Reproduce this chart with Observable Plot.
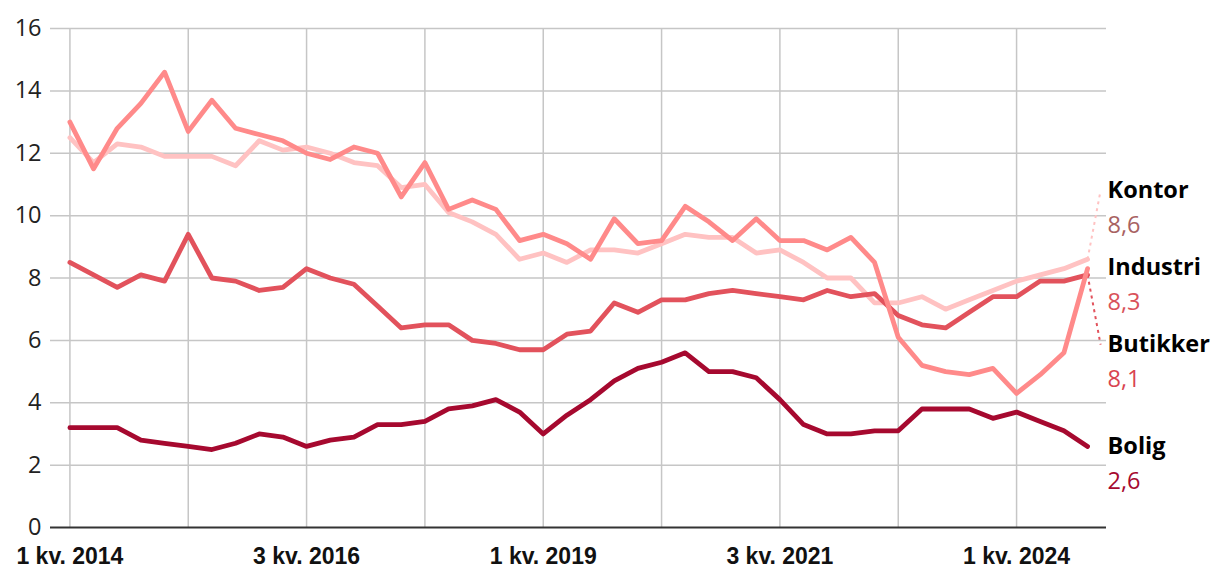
<!DOCTYPE html>
<html><head><meta charset="utf-8">
<script src="https://cdn.jsdelivr.net/npm/d3@7"></script>
<script src="https://cdn.jsdelivr.net/npm/@observablehq/plot@0.6"></script>
<style>
html,body{margin:0;padding:0;background:#fff;}
#chart{width:1220px;height:580px;}
</style></head><body><div id="chart"></div>
<script>
// ---- data ----
const startYear = 2014;
const seriesNames = ["Kontor", "Industri", "Butikker", "Bolig"];
const kontor = [12.5, 11.7, 12.3, 12.2, 11.9, 11.9, 11.9, 11.6, 12.4, 12.1,
  12.2, 12.0, 11.7, 11.6, 10.9, 11.0, 10.1, 9.8, 9.4, 8.6,
  8.8, 8.5, 8.9, 8.9, 8.8, 9.1, 9.4, 9.3, 9.3, 8.8,
  8.9, 8.5, 8.0, 8.0, 7.2, 7.2, 7.4, 7.0, 7.3, 7.6,
  7.9, 8.1, 8.3, 8.6];
const industri = [13.0, 11.5, 12.8, 13.6, 14.6, 12.7, 13.7, 12.8, 12.6, 12.4,
  12.0, 11.8, 12.2, 12.0, 10.6, 11.7, 10.2, 10.5, 10.2, 9.2,
  9.4, 9.1, 8.6, 9.9, 9.1, 9.2, 10.3, 9.8, 9.2, 9.9,
  9.2, 9.2, 8.9, 9.3, 8.5, 6.1, 5.2, 5.0, 4.9, 5.1,
  4.3, 4.9, 5.6, 8.3];
const butikker = [8.5, 8.1, 7.7, 8.1, 7.9, 9.4, 8.0, 7.9, 7.6, 7.7,
  8.3, 8.0, 7.8, 7.1, 6.4, 6.5, 6.5, 6.0, 5.9, 5.7,
  5.7, 6.2, 6.3, 7.2, 6.9, 7.3, 7.3, 7.5, 7.6, 7.5,
  7.4, 7.3, 7.6, 7.4, 7.5, 6.8, 6.5, 6.4, 6.9, 7.4,
  7.4, 7.9, 7.9, 8.1];
const bolig = [3.2, 3.2, 3.2, 2.8, 2.7, 2.6, 2.5, 2.7, 3.0, 2.9,
  2.6, 2.8, 2.9, 3.3, 3.3, 3.4, 3.8, 3.9, 4.1, 3.7,
  3.0, 3.6, 4.1, 4.7, 5.1, 5.3, 5.6, 5.0, 5.0, 4.8,
  4.1, 3.3, 3.0, 3.0, 3.1, 3.1, 3.8, 3.8, 3.8, 3.5,
  3.7, 3.4, 3.1, 2.6];
const yTicks = [0, 2, 4, 6, 8, 10, 12, 14, 16];

// ---- styles ----
const lineColors = {Kontor: "#ffc2c2", Industri: "#ff8a8a", Butikker: "#e2525c", Bolig: "#a6092f"};
const valueColors = {Kontor: "#a86262", Industri: "#d9525a", Butikker: "#d94450", Bolig: "#a6092f"};
const drawOrder = ["Kontor", "Butikker", "Industri", "Bolig"];

const seriesValues = {Kontor: kontor, Industri: industri, Butikker: butikker, Bolig: bolig};
const n = kontor.length;
const quarterLabel = i => `${(i % 4) + 1} kv. ${startYear + Math.floor(i / 4)}`;

const rows = drawOrder.flatMap(name => seriesValues[name].map((v, i) => ({i, name, value: v})));

// end labels with simple dodge
const ends = seriesNames.map(name => ({name, i: n - 1, value: seriesValues[name][n - 1]}));
(function dodge(items, gap) {
  const sorted = items.slice().sort((a, b) => b.value - a.value);
  let clusters = sorted.map(d => ({items: [d], center: d.value}));
  let changed = true;
  const place = c => c.items.forEach((d, k) => d.labelY = c.center + ((c.items.length - 1) / 2 - k) * gap);
  while (changed) {
    changed = false;
    clusters.forEach(place);
    for (let k = 0; k < clusters.length - 1; k++) {
      const a = clusters[k], b = clusters[k + 1];
      const aLow = a.items[a.items.length - 1].labelY, bHigh = b.items[0].labelY;
      if (aLow - bHigh < gap - 1e-9) {
        const merged = a.items.concat(b.items);
        const c = {items: merged, center: d3.mean(merged, d => d.value)};
        clusters.splice(k, 2, c);
        changed = true;
        break;
      }
    }
  }
  clusters.forEach(place);
})(ends, 2.47);

const fmt = v => v.toFixed(1).replace(".", ",");
const gridX = d3.range(0, n, 5);

const chart = Plot.plot({
  width: 1220,
  height: 580,
  marginLeft: 50,
  marginRight: 114,
  marginTop: 28,
  marginBottom: 53,
  style: {fontFamily: "'Open Sans', sans-serif", background: "#fff", color: "#222"},
  x: {domain: [-0.82, 43.8], axis: null, label: null},
  y: {domain: [0, 16], axis: null, label: null},
  marks: [
    Plot.ruleX(gridX, {stroke: "#c6c6c6", strokeWidth: 1.5}),
    Plot.ruleY(yTicks.filter(t => t > 0), {stroke: "#c6c6c6", strokeWidth: 1.5}),
    Plot.ruleY([0], {stroke: "#333", strokeWidth: 2}),
    Plot.link(ends.filter(d => Math.abs(d.labelY - d.value) > 0.3), {
      x1: "i", y1: "value", x2: d => d.i + 0.55, y2: "labelY",
      stroke: d => lineColors[d.name], strokeWidth: 2, strokeDasharray: "3,4"
    }),
    Plot.line(rows, {x: "i", y: "value", z: "name", stroke: d => lineColors[d.name], strokeWidth: 4.8, strokeLinejoin: "round", strokeLinecap: "round"}),
    Plot.text(ends, {x: "i", y: "labelY", text: "name", dx: 20, textAnchor: "start", fontWeight: "bold", fontSize: 23.5, fill: "#000"}),
    Plot.text(ends, {x: "i", y: "labelY", text: d => fmt(d.value), dx: 20, dy: 35, textAnchor: "start", fontSize: 23.5, fill: d => valueColors[d.name]}),
    Plot.axisY({ticks: yTicks, tickSize: 0, tickPadding: 9, fontSize: 23.5, fill: "#222", tickFormat: d => String(d), label: null}),
    Plot.axisX({ticks: d3.range(0, n, 10), tickSize: 0, tickPadding: 20, tickFormat: quarterLabel, label: null,
      fontSize: 23, fontWeight: "bold", fontFamily: "'Liberation Sans', Arial, sans-serif", fill: "#111"})
  ]
});
document.getElementById("chart").appendChild(chart);
</script>
</body></html>
